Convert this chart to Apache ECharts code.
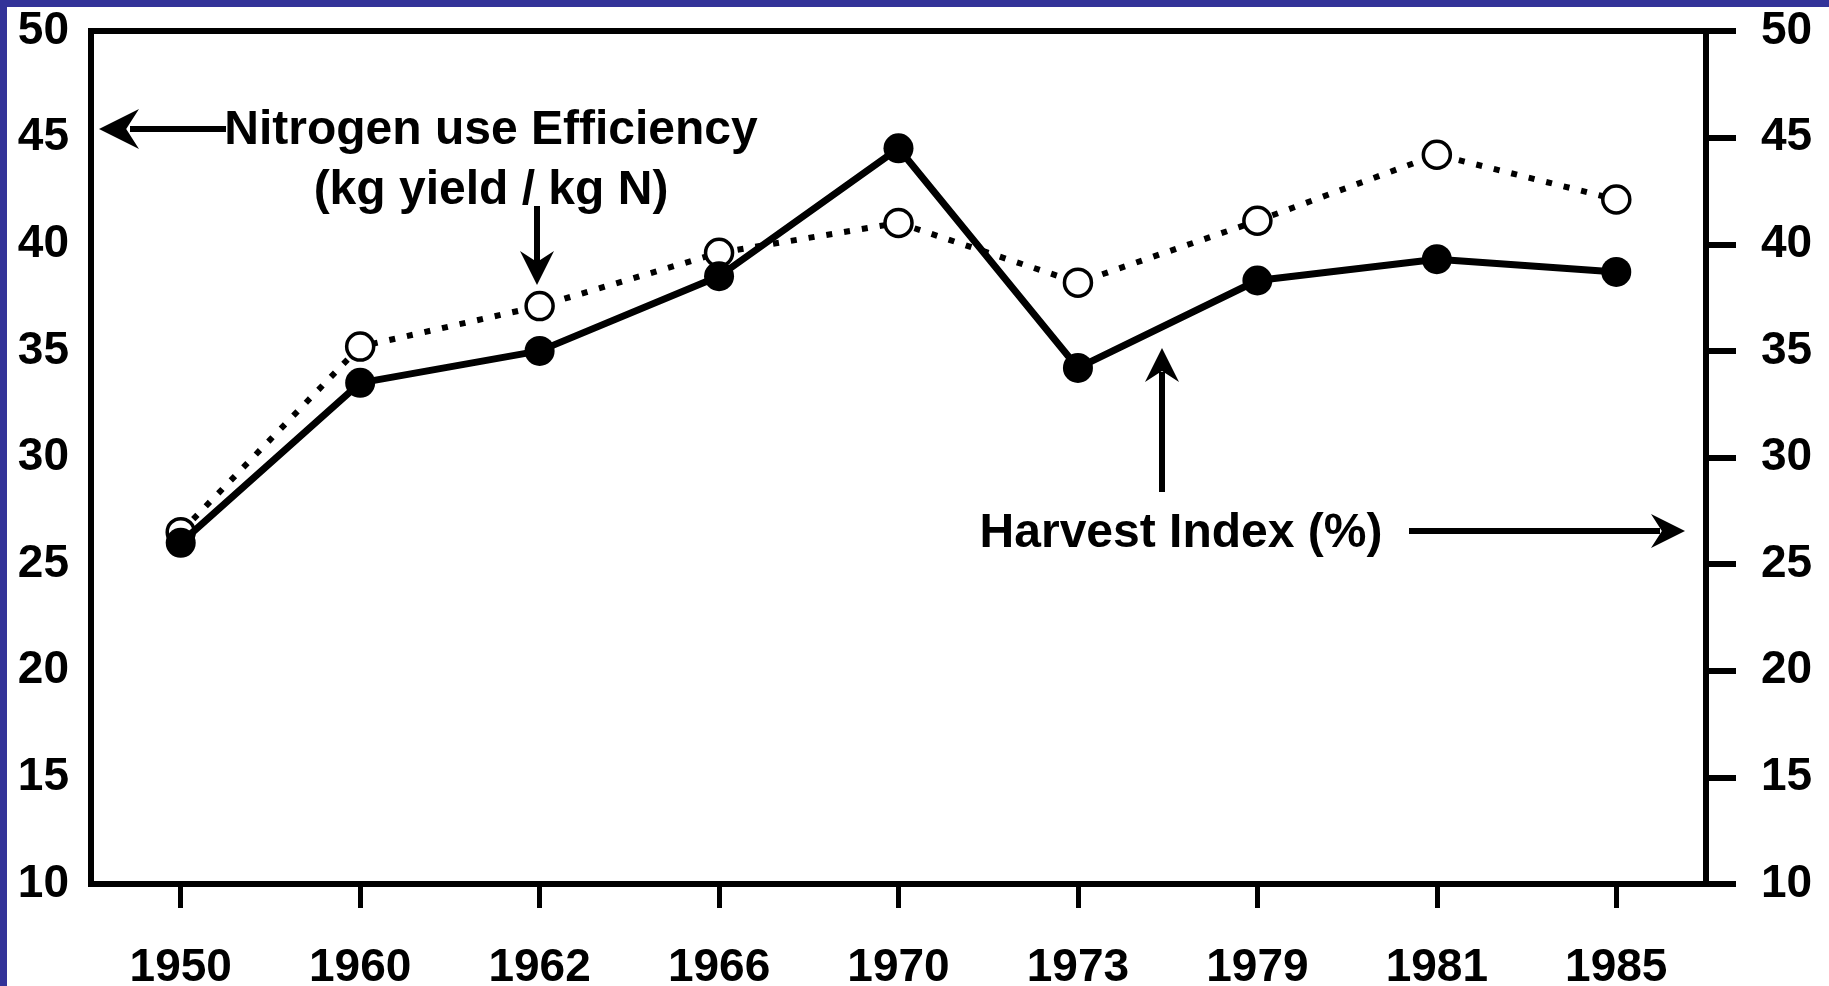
<!DOCTYPE html>
<html>
<head>
<meta charset="utf-8">
<script src="https://cdn.jsdelivr.net/npm/echarts@6/dist/echarts.min.js"></script>
<style>
  html, body { margin: 0; padding: 0; background: #fff; }
  #chart { width: 1829px; height: 986px; }
</style>
</head>
<body>
<div id="chart"></div>
<script>
// years on the x axis
const years = ['1950', '1960', '1962', '1966', '1970', '1973', '1979', '1981', '1985'];
// nitrogen use efficiency (open circles, dotted) - left axis
const nue = [26.5, 35.2, 37.1, 39.6, 41.0, 38.2, 41.1, 44.2, 42.1];
// harvest index (filled circles, solid) - right axis
const harvestIndex = [26.0, 33.5, 35.0, 38.5, 44.5, 34.2, 38.3, 39.3, 38.7];
// axis range
const yMin = 10, yMax = 50, yStep = 5;

const font = '"Liberation Sans", Arial, Helvetica, sans-serif';
const chart = echarts.init(document.getElementById('chart'), null, { renderer: 'canvas' });

// arrow head polygon (stealth style) pointing in direction (dx,dy) at tip (x,y)
function head(x, y, dx, dy, len, half) {
  const px = -dy, py = dx;
  const bx = x - dx * len, by = y - dy * len;
  const nx = x - dx * len * 0.68, ny = y - dy * len * 0.68;
  return {
    type: 'polygon', z: 60,
    shape: { points: [[x, y], [bx + px * half, by + py * half], [nx, ny], [bx - px * half, by - py * half]] },
    style: { fill: '#000' }
  };
}
function shaft(x1, y1, x2, y2) {
  return { type: 'line', z: 60, shape: { x1, y1, x2, y2 }, style: { stroke: '#000', lineWidth: 6 } };
}
function label(text, x, y) {
  return {
    type: 'text', x, y, z: 60,
    style: { text, font: 'bold 48px ' + font, fill: '#000', align: 'center', verticalAlign: 'middle' }
  };
}

const option = {
  animation: false,
  backgroundColor: '#fff',
  grid: {
    left: 91, right: 123, top: 31, bottom: 102,
    containLabel: false, outerBoundsMode: 'none',
    show: true, borderColor: '#000', borderWidth: 6, backgroundColor: '#fff'
  },
  xAxis: {
    type: 'category',
    data: years,
    boundaryGap: true,
    axisLine: { show: false },
    axisTick: { show: true, alignWithLabel: true, length: 24, lineStyle: { color: '#000', width: 5 } },
    axisLabel: { color: '#000', fontSize: 46, fontFamily: font, fontWeight: 'bold', margin: 61 },
    splitLine: { show: false }
  },
  yAxis: [
    {
      type: 'value', min: yMin, max: yMax, interval: yStep, position: 'left',
      axisLine: { show: false },
      axisTick: { show: false },
      axisLabel: { color: '#000', fontSize: 46, fontFamily: font, fontWeight: 'bold', margin: 22 },
      splitLine: { show: false }
    },
    {
      type: 'value', min: yMin, max: yMax, interval: yStep, position: 'right',
      axisLine: { show: false },
      axisTick: { show: true, inside: false, length: 30, lineStyle: { color: '#000', width: 6 } },
      axisLabel: { color: '#000', fontSize: 46, fontFamily: font, fontWeight: 'bold', margin: 55 },
      splitLine: { show: false }
    }
  ],
  series: [
    {
      name: 'Nitrogen use Efficiency',
      type: 'line',
      yAxisIndex: 0,
      data: nue,
      symbol: 'circle',
      symbolSize: 27,
      lineStyle: { color: '#000', width: 6, type: [6, 12], cap: 'butt' },
      itemStyle: { color: '#fff', borderColor: '#000', borderWidth: 3.5 },
      z: 2
    },
    {
      name: 'Harvest Index',
      type: 'line',
      yAxisIndex: 1,
      data: harvestIndex,
      symbol: 'circle',
      symbolSize: 30,
      lineStyle: { color: '#000', width: 7 },
      itemStyle: { color: '#000' },
      z: 3
    }
  ],
  graphic: [
    // blue slide strips
    { type: 'rect', shape: { x: 0, y: 0, width: 1829, height: 7 }, style: { fill: '#333399' }, z: 100 },
    { type: 'rect', shape: { x: 0, y: 0, width: 7, height: 986 }, style: { fill: '#333399' }, z: 100 },
    // Nitrogen use Efficiency label + arrows
    label('Nitrogen use Efficiency', 491, 131),
    label('(kg yield / kg N)', 491, 191),
    shaft(226, 129, 130, 129),
    head(99, 129, -1, 0, 40, 20),
    shaft(537, 206, 537, 262),
    head(537, 285, 0, 1, 34, 17),
    // Harvest Index label + arrows
    label('Harvest Index (%)', 1181, 534),
    shaft(1409, 531, 1660, 531),
    head(1685, 531, 1, 0, 34, 17),
    shaft(1162, 492, 1162, 372),
    head(1162, 348, 0, -1, 34, 17)
  ]
};

chart.setOption(option);
</script>
</body>
</html>
